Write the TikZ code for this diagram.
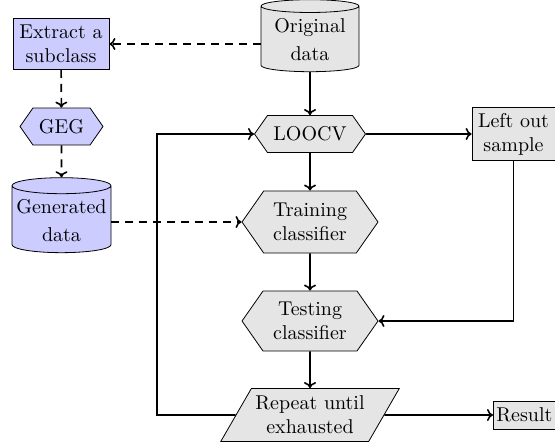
\documentclass[tikz,border=0pt]{standalone}
\usetikzlibrary{shapes.geometric,shapes.symbols,arrows.meta}
\definecolor{lav}{RGB}{204,204,255}
\definecolor{lgray}{RGB}{229,229,229}
\tikzset{
  box/.style={draw, rectangle, align=center, inner sep=1.5pt},
  hexa/.style={draw, signal, signal to=east and west, signal pointer angle=110, align=center, inner sep=1pt},
  cyl/.style={draw, cylinder, shape border rotate=90, aspect=0.17, align=center, inner sep=1pt},
  para/.style={draw, trapezium, trapezium left angle=60, trapezium right angle=120, align=center, inner xsep=-4pt, inner ysep=1pt},
  conn/.style={thick, -{To[length=3pt,width=6pt]}},
  dconn/.style={conn, dash pattern=on 4pt off 3pt},
}
\begin{document}
\begin{tikzpicture}[x=0.5pt,y=-0.5pt]
\useasboundingbox (0,0) rectangle (555,445);
\node[box, fill=lav, minimum width=48pt, minimum height=25.5pt] (ext) at (61,44) {Extract a\\subclass};
\node[hexa, fill=lav, minimum width=41.5pt, minimum height=18.5pt] (geg) at (61.5,126.5) {GEG};
\node[cyl, fill=lav, minimum width=49.5pt, minimum height=37.5pt] (gen) at (61.5,220.5) {Generated\\[2pt]data};
\node[cyl, fill=lgray, minimum width=49pt, minimum height=36pt] (orig) at (310,40) {Original\\[2pt]data};
\node[hexa, fill=lgray, minimum width=55.5pt, minimum height=18.5pt] (loo) at (310,134) {LOOCV};
\node[box, fill=lgray, minimum width=41.5pt, minimum height=26.5pt] (left) at (513.5,134) {Left out\\sample};
\node[hexa, fill=lgray, minimum width=68pt, minimum height=31pt] (train) at (310,222) {Training\\classifier};
\node[hexa, fill=lgray, minimum width=68pt, minimum height=30pt] (test) at (310,321) {Testing\\classifier};
\node[para, fill=lgray, minimum height=26.5pt] (rep) at (310,415) {Repeat until\\exhausted};
\node[box, fill=lgray, minimum width=30pt, minimum height=14pt, anchor=west] (res) at (493,415) {Result};
\coordinate (c1) at (157,415);
\coordinate (c2) at (157,134);
\draw[dconn] (orig.west |- ext.east) -- (ext.east);
\draw[dconn] (ext) -- (geg);
\draw[dconn] (geg) -- (gen);
\draw[dconn] (gen.east |- train.west) -- (train.west);
\draw[conn] (orig) -- (loo);
\draw[conn] (loo) -- (left);
\draw[conn] (loo) -- (train);
\draw[conn] (train) -- (test);
\draw[conn] (left.south) |- (test.east);
\draw[conn] (test) -- (rep);
\draw[conn] (rep) -- (res);
\draw[conn] (rep.west) -- (c1) -- (c2) -- (loo.west);
\end{tikzpicture}
\end{document}
